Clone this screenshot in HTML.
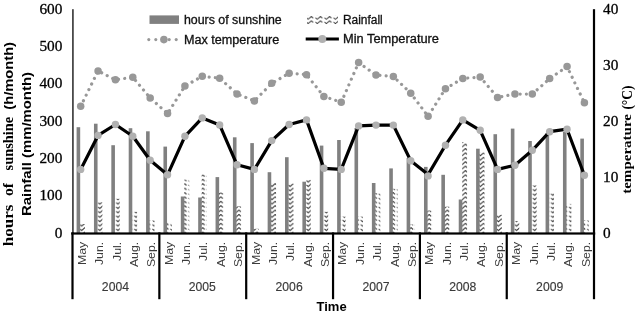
<!DOCTYPE html><html><head><meta charset="utf-8"><style>html,body{margin:0;padding:0;background:#fff;}svg{display:block;will-change:transform}</style></head><body>
<svg width="638" height="314" viewBox="0 0 638 314">
<defs>
<pattern id="wave" patternUnits="userSpaceOnUse" width="9.06" height="4.4" x="3.4" y="2.85"><path d="M-3.3,3.2 L0,0.4 L1.95,2.15 M4.05,1.65 L5.8,3.2 L9.1,0.4 L11.05,2.15" fill="none" stroke="#333333" stroke-width="1.05"/></pattern>
<pattern id="wavel" patternUnits="userSpaceOnUse" width="9.1" height="4.4" x="2.0" y="2.85"><path d="M-3.3,3.2 L0,0.4 L1.95,2.15 M4.05,1.65 L5.8,3.2 L9.1,0.4 L11.05,2.15" fill="none" stroke="#333" stroke-width="0.95"/></pattern>
</defs>
<rect width="638" height="314" fill="#fff"/>
<rect x="76.59" y="127.20" width="3.6" height="106.30" fill="#808080"/>
<rect x="80.09" y="224.00" width="4.9" height="9.50" fill="url(#wave)"/>
<rect x="93.96" y="123.70" width="3.6" height="109.80" fill="#808080"/>
<rect x="97.46" y="202.30" width="4.9" height="31.20" fill="url(#wave)"/>
<rect x="111.33" y="145.20" width="3.6" height="88.30" fill="#808080"/>
<rect x="114.83" y="198.80" width="4.9" height="34.70" fill="url(#wave)"/>
<rect x="128.70" y="128.20" width="3.6" height="105.30" fill="#808080"/>
<rect x="132.20" y="211.80" width="4.9" height="21.70" fill="url(#wave)"/>
<rect x="146.07" y="131.30" width="3.6" height="102.20" fill="#808080"/>
<rect x="149.57" y="220.50" width="4.9" height="13.00" fill="url(#wave)"/>
<rect x="163.44" y="146.60" width="3.6" height="86.90" fill="#808080"/>
<rect x="166.94" y="222.00" width="4.9" height="11.50" fill="url(#wave)"/>
<rect x="180.81" y="196.50" width="3.6" height="37.00" fill="#808080"/>
<rect x="184.31" y="179.60" width="4.9" height="53.90" fill="url(#wave)"/>
<rect x="198.18" y="197.50" width="3.6" height="36.00" fill="#808080"/>
<rect x="201.68" y="174.50" width="4.9" height="59.00" fill="url(#wave)"/>
<rect x="215.55" y="177.10" width="3.6" height="56.40" fill="#808080"/>
<rect x="219.05" y="192.60" width="4.9" height="40.90" fill="url(#wave)"/>
<rect x="232.92" y="137.30" width="3.6" height="96.20" fill="#808080"/>
<rect x="236.42" y="206.40" width="4.9" height="27.10" fill="url(#wave)"/>
<rect x="250.29" y="143.10" width="3.6" height="90.40" fill="#808080"/>
<rect x="253.79" y="228.80" width="4.9" height="4.70" fill="url(#wave)"/>
<rect x="267.65" y="172.20" width="3.6" height="61.30" fill="#808080"/>
<rect x="271.15" y="183.00" width="4.9" height="50.50" fill="url(#wave)"/>
<rect x="285.02" y="157.20" width="3.6" height="76.30" fill="#808080"/>
<rect x="288.52" y="183.50" width="4.9" height="50.00" fill="url(#wave)"/>
<rect x="302.39" y="181.70" width="3.6" height="51.80" fill="#808080"/>
<rect x="305.89" y="179.90" width="4.9" height="53.60" fill="url(#wave)"/>
<rect x="319.76" y="145.60" width="3.6" height="87.90" fill="#808080"/>
<rect x="323.26" y="211.80" width="4.9" height="21.70" fill="url(#wave)"/>
<rect x="337.13" y="140.00" width="3.6" height="93.50" fill="#808080"/>
<rect x="340.63" y="216.60" width="4.9" height="16.90" fill="url(#wave)"/>
<rect x="354.50" y="128.00" width="3.6" height="105.50" fill="#808080"/>
<rect x="358.00" y="216.60" width="4.9" height="16.90" fill="url(#wave)"/>
<rect x="371.88" y="183.00" width="3.6" height="50.50" fill="#808080"/>
<rect x="375.38" y="193.10" width="4.9" height="40.40" fill="url(#wave)"/>
<rect x="389.25" y="168.40" width="3.6" height="65.10" fill="#808080"/>
<rect x="392.75" y="188.80" width="4.9" height="44.70" fill="url(#wave)"/>
<rect x="406.62" y="158.00" width="3.6" height="75.50" fill="#808080"/>
<rect x="410.12" y="224.50" width="4.9" height="9.00" fill="url(#wave)"/>
<rect x="423.99" y="166.90" width="3.6" height="66.60" fill="#808080"/>
<rect x="427.49" y="210.50" width="4.9" height="23.00" fill="url(#wave)"/>
<rect x="441.36" y="174.80" width="3.6" height="58.70" fill="#808080"/>
<rect x="444.86" y="206.70" width="4.9" height="26.80" fill="url(#wave)"/>
<rect x="458.73" y="199.50" width="3.6" height="34.00" fill="#808080"/>
<rect x="462.23" y="142.10" width="4.9" height="91.40" fill="url(#wave)"/>
<rect x="476.10" y="148.70" width="3.6" height="84.80" fill="#808080"/>
<rect x="479.60" y="152.40" width="4.9" height="81.10" fill="url(#wave)"/>
<rect x="493.46" y="134.20" width="3.6" height="99.30" fill="#808080"/>
<rect x="496.96" y="214.80" width="4.9" height="18.70" fill="url(#wave)"/>
<rect x="510.83" y="128.60" width="3.6" height="104.90" fill="#808080"/>
<rect x="514.33" y="221.20" width="4.9" height="12.30" fill="url(#wave)"/>
<rect x="528.21" y="141.00" width="3.6" height="92.50" fill="#808080"/>
<rect x="531.71" y="185.50" width="4.9" height="48.00" fill="url(#wave)"/>
<rect x="545.57" y="133.00" width="3.6" height="100.50" fill="#808080"/>
<rect x="549.07" y="193.10" width="4.9" height="40.40" fill="url(#wave)"/>
<rect x="562.95" y="132.00" width="3.6" height="101.50" fill="#808080"/>
<rect x="566.45" y="203.90" width="4.9" height="29.60" fill="url(#wave)"/>
<rect x="580.32" y="138.60" width="3.6" height="94.90" fill="#808080"/>
<rect x="583.82" y="220.40" width="4.9" height="13.10" fill="url(#wave)"/>
<polyline points="80.69,106.30 98.06,70.90 115.43,79.80 132.80,77.30 150.17,98.00 167.54,113.60 184.91,86.00 202.28,76.30 219.65,78.20 237.02,93.90 254.39,100.90 271.75,83.30 289.12,73.20 306.50,74.70 323.87,96.40 341.24,102.30 358.61,62.60 375.98,75.00 393.35,76.50 410.72,93.20 428.09,116.30 445.46,88.70 462.83,78.40 480.20,77.10 497.56,97.40 514.93,94.10 532.31,94.10 549.67,78.60 567.05,66.60 584.42,102.80" fill="none" stroke="#989898" stroke-width="3.2" stroke-dasharray="0.01 6.2" stroke-linecap="round"/>
<circle cx="80.69" cy="106.30" r="3.75" fill="#989898"/>
<circle cx="98.06" cy="70.90" r="3.75" fill="#989898"/>
<circle cx="115.43" cy="79.80" r="3.75" fill="#989898"/>
<circle cx="132.80" cy="77.30" r="3.75" fill="#989898"/>
<circle cx="150.17" cy="98.00" r="3.75" fill="#989898"/>
<circle cx="167.54" cy="113.60" r="3.75" fill="#989898"/>
<circle cx="184.91" cy="86.00" r="3.75" fill="#989898"/>
<circle cx="202.28" cy="76.30" r="3.75" fill="#989898"/>
<circle cx="219.65" cy="78.20" r="3.75" fill="#989898"/>
<circle cx="237.02" cy="93.90" r="3.75" fill="#989898"/>
<circle cx="254.39" cy="100.90" r="3.75" fill="#989898"/>
<circle cx="271.75" cy="83.30" r="3.75" fill="#989898"/>
<circle cx="289.12" cy="73.20" r="3.75" fill="#989898"/>
<circle cx="306.50" cy="74.70" r="3.75" fill="#989898"/>
<circle cx="323.87" cy="96.40" r="3.75" fill="#989898"/>
<circle cx="341.24" cy="102.30" r="3.75" fill="#989898"/>
<circle cx="358.61" cy="62.60" r="3.75" fill="#989898"/>
<circle cx="375.98" cy="75.00" r="3.75" fill="#989898"/>
<circle cx="393.35" cy="76.50" r="3.75" fill="#989898"/>
<circle cx="410.72" cy="93.20" r="3.75" fill="#989898"/>
<circle cx="428.09" cy="116.30" r="3.75" fill="#989898"/>
<circle cx="445.46" cy="88.70" r="3.75" fill="#989898"/>
<circle cx="462.83" cy="78.40" r="3.75" fill="#989898"/>
<circle cx="480.20" cy="77.10" r="3.75" fill="#989898"/>
<circle cx="497.56" cy="97.40" r="3.75" fill="#989898"/>
<circle cx="514.93" cy="94.10" r="3.75" fill="#989898"/>
<circle cx="532.31" cy="94.10" r="3.75" fill="#989898"/>
<circle cx="549.67" cy="78.60" r="3.75" fill="#989898"/>
<circle cx="567.05" cy="66.60" r="3.75" fill="#989898"/>
<circle cx="584.42" cy="102.80" r="3.75" fill="#989898"/>
<polyline points="80.69,169.40 98.06,135.40 115.43,124.50 132.80,136.30 150.17,160.30 167.54,174.80 184.91,136.30 202.28,117.90 219.65,124.90 237.02,164.80 254.39,169.40 271.75,140.60 289.12,124.50 306.50,119.90 323.87,168.30 341.24,169.40 358.61,125.90 375.98,125.10 393.35,125.10 410.72,160.70 428.09,174.60 445.46,145.20 462.83,119.90 480.20,130.30 497.56,169.40 514.93,165.20 532.31,150.30 549.67,131.70 567.05,129.20 584.42,175.20" fill="none" stroke="#000" stroke-width="3.2" stroke-linejoin="round"/>
<circle cx="80.69" cy="169.40" r="3.7" fill="#b1b1b1"/>
<circle cx="98.06" cy="135.40" r="3.7" fill="#b1b1b1"/>
<circle cx="115.43" cy="124.50" r="3.7" fill="#b1b1b1"/>
<circle cx="132.80" cy="136.30" r="3.7" fill="#b1b1b1"/>
<circle cx="150.17" cy="160.30" r="3.7" fill="#b1b1b1"/>
<circle cx="167.54" cy="174.80" r="3.7" fill="#b1b1b1"/>
<circle cx="184.91" cy="136.30" r="3.7" fill="#b1b1b1"/>
<circle cx="202.28" cy="117.90" r="3.7" fill="#b1b1b1"/>
<circle cx="219.65" cy="124.90" r="3.7" fill="#b1b1b1"/>
<circle cx="237.02" cy="164.80" r="3.7" fill="#b1b1b1"/>
<circle cx="254.39" cy="169.40" r="3.7" fill="#b1b1b1"/>
<circle cx="271.75" cy="140.60" r="3.7" fill="#b1b1b1"/>
<circle cx="289.12" cy="124.50" r="3.7" fill="#b1b1b1"/>
<circle cx="306.50" cy="119.90" r="3.7" fill="#b1b1b1"/>
<circle cx="323.87" cy="168.30" r="3.7" fill="#b1b1b1"/>
<circle cx="341.24" cy="169.40" r="3.7" fill="#b1b1b1"/>
<circle cx="358.61" cy="125.90" r="3.7" fill="#b1b1b1"/>
<circle cx="375.98" cy="125.10" r="3.7" fill="#b1b1b1"/>
<circle cx="393.35" cy="125.10" r="3.7" fill="#b1b1b1"/>
<circle cx="410.72" cy="160.70" r="3.7" fill="#b1b1b1"/>
<circle cx="428.09" cy="175.90" r="3.7" fill="#b1b1b1"/>
<circle cx="445.46" cy="145.20" r="3.7" fill="#b1b1b1"/>
<circle cx="462.83" cy="119.90" r="3.7" fill="#b1b1b1"/>
<circle cx="480.20" cy="130.30" r="3.7" fill="#b1b1b1"/>
<circle cx="497.56" cy="169.40" r="3.7" fill="#b1b1b1"/>
<circle cx="514.93" cy="165.20" r="3.7" fill="#b1b1b1"/>
<circle cx="532.31" cy="150.30" r="3.7" fill="#b1b1b1"/>
<circle cx="549.67" cy="131.70" r="3.7" fill="#b1b1b1"/>
<circle cx="567.05" cy="129.20" r="3.7" fill="#b1b1b1"/>
<circle cx="584.42" cy="175.20" r="3.7" fill="#b1b1b1"/>
<rect x="72" y="9.2" width="1.8" height="224" fill="#4a4a4a"/>
<rect x="71.2" y="232.4" width="524" height="2.2" fill="#000"/>
<rect x="592.9" y="9.2" width="2.2" height="290" fill="#000"/>
<rect x="71.40" y="232.4" width="2.2" height="66.8" fill="#000"/>
<rect x="158.25" y="232.4" width="2.2" height="66.8" fill="#000"/>
<rect x="245.10" y="232.4" width="2.2" height="66.8" fill="#000"/>
<rect x="331.95" y="232.4" width="2.2" height="66.8" fill="#000"/>
<rect x="418.80" y="232.4" width="2.2" height="66.8" fill="#000"/>
<rect x="505.65" y="232.4" width="2.2" height="66.8" fill="#000"/>
<text transform="translate(62.4,237.80) scale(1.02,1)" text-anchor="end" font-family="Liberation Serif" font-size="15" fill="#000" stroke="#000" stroke-width="0.3">0</text>
<text transform="translate(62.4,200.47) scale(1.02,1)" text-anchor="end" font-family="Liberation Serif" font-size="15" fill="#000" stroke="#000" stroke-width="0.3">100</text>
<text transform="translate(62.4,163.14) scale(1.02,1)" text-anchor="end" font-family="Liberation Serif" font-size="15" fill="#000" stroke="#000" stroke-width="0.3">200</text>
<text transform="translate(62.4,125.81) scale(1.02,1)" text-anchor="end" font-family="Liberation Serif" font-size="15" fill="#000" stroke="#000" stroke-width="0.3">300</text>
<text transform="translate(62.4,88.48) scale(1.02,1)" text-anchor="end" font-family="Liberation Serif" font-size="15" fill="#000" stroke="#000" stroke-width="0.3">400</text>
<text transform="translate(62.4,51.15) scale(1.02,1)" text-anchor="end" font-family="Liberation Serif" font-size="15" fill="#000" stroke="#000" stroke-width="0.3">500</text>
<text transform="translate(62.4,13.82) scale(1.02,1)" text-anchor="end" font-family="Liberation Serif" font-size="15" fill="#000" stroke="#000" stroke-width="0.3">600</text>
<text transform="translate(603,237.80) scale(1.02,1)" font-family="Liberation Serif" font-size="15" fill="#000" stroke="#000" stroke-width="0.3">0</text>
<text transform="translate(603,181.80) scale(1.02,1)" font-family="Liberation Serif" font-size="15" fill="#000" stroke="#000" stroke-width="0.3">10</text>
<text transform="translate(603,125.80) scale(1.02,1)" font-family="Liberation Serif" font-size="15" fill="#000" stroke="#000" stroke-width="0.3">20</text>
<text transform="translate(603,69.80) scale(1.02,1)" font-family="Liberation Serif" font-size="15" fill="#000" stroke="#000" stroke-width="0.3">30</text>
<text transform="translate(603,13.80) scale(1.02,1)" font-family="Liberation Serif" font-size="15" fill="#000" stroke="#000" stroke-width="0.3">40</text>
<text transform="translate(85.89,241.8) rotate(-90) scale(1.12,1)" text-anchor="end" font-family="Liberation Sans" font-size="11" fill="#3c3c3c">May</text>
<text transform="translate(103.26,241.8) rotate(-90) scale(1.12,1)" text-anchor="end" font-family="Liberation Sans" font-size="11" fill="#3c3c3c">Jun.</text>
<text transform="translate(120.63,241.8) rotate(-90) scale(1.12,1)" text-anchor="end" font-family="Liberation Sans" font-size="11" fill="#3c3c3c">Jul.</text>
<text transform="translate(138.00,241.8) rotate(-90) scale(1.12,1)" text-anchor="end" font-family="Liberation Sans" font-size="11" fill="#3c3c3c">Aug.</text>
<text transform="translate(155.37,241.8) rotate(-90) scale(1.12,1)" text-anchor="end" font-family="Liberation Sans" font-size="11" fill="#3c3c3c">Sep.</text>
<text transform="translate(172.74,241.8) rotate(-90) scale(1.12,1)" text-anchor="end" font-family="Liberation Sans" font-size="11" fill="#3c3c3c">May</text>
<text transform="translate(190.10,241.8) rotate(-90) scale(1.12,1)" text-anchor="end" font-family="Liberation Sans" font-size="11" fill="#3c3c3c">Jun.</text>
<text transform="translate(207.47,241.8) rotate(-90) scale(1.12,1)" text-anchor="end" font-family="Liberation Sans" font-size="11" fill="#3c3c3c">Jul.</text>
<text transform="translate(224.84,241.8) rotate(-90) scale(1.12,1)" text-anchor="end" font-family="Liberation Sans" font-size="11" fill="#3c3c3c">Aug.</text>
<text transform="translate(242.22,241.8) rotate(-90) scale(1.12,1)" text-anchor="end" font-family="Liberation Sans" font-size="11" fill="#3c3c3c">Sep.</text>
<text transform="translate(259.59,241.8) rotate(-90) scale(1.12,1)" text-anchor="end" font-family="Liberation Sans" font-size="11" fill="#3c3c3c">May</text>
<text transform="translate(276.95,241.8) rotate(-90) scale(1.12,1)" text-anchor="end" font-family="Liberation Sans" font-size="11" fill="#3c3c3c">Jun.</text>
<text transform="translate(294.32,241.8) rotate(-90) scale(1.12,1)" text-anchor="end" font-family="Liberation Sans" font-size="11" fill="#3c3c3c">Jul.</text>
<text transform="translate(311.69,241.8) rotate(-90) scale(1.12,1)" text-anchor="end" font-family="Liberation Sans" font-size="11" fill="#3c3c3c">Aug.</text>
<text transform="translate(329.06,241.8) rotate(-90) scale(1.12,1)" text-anchor="end" font-family="Liberation Sans" font-size="11" fill="#3c3c3c">Sep.</text>
<text transform="translate(346.44,241.8) rotate(-90) scale(1.12,1)" text-anchor="end" font-family="Liberation Sans" font-size="11" fill="#3c3c3c">May</text>
<text transform="translate(363.81,241.8) rotate(-90) scale(1.12,1)" text-anchor="end" font-family="Liberation Sans" font-size="11" fill="#3c3c3c">Jun.</text>
<text transform="translate(381.18,241.8) rotate(-90) scale(1.12,1)" text-anchor="end" font-family="Liberation Sans" font-size="11" fill="#3c3c3c">Jul.</text>
<text transform="translate(398.55,241.8) rotate(-90) scale(1.12,1)" text-anchor="end" font-family="Liberation Sans" font-size="11" fill="#3c3c3c">Aug.</text>
<text transform="translate(415.92,241.8) rotate(-90) scale(1.12,1)" text-anchor="end" font-family="Liberation Sans" font-size="11" fill="#3c3c3c">Sep.</text>
<text transform="translate(433.29,241.8) rotate(-90) scale(1.12,1)" text-anchor="end" font-family="Liberation Sans" font-size="11" fill="#3c3c3c">May</text>
<text transform="translate(450.66,241.8) rotate(-90) scale(1.12,1)" text-anchor="end" font-family="Liberation Sans" font-size="11" fill="#3c3c3c">Jun.</text>
<text transform="translate(468.03,241.8) rotate(-90) scale(1.12,1)" text-anchor="end" font-family="Liberation Sans" font-size="11" fill="#3c3c3c">Jul.</text>
<text transform="translate(485.40,241.8) rotate(-90) scale(1.12,1)" text-anchor="end" font-family="Liberation Sans" font-size="11" fill="#3c3c3c">Aug.</text>
<text transform="translate(502.76,241.8) rotate(-90) scale(1.12,1)" text-anchor="end" font-family="Liberation Sans" font-size="11" fill="#3c3c3c">Sep.</text>
<text transform="translate(520.13,241.8) rotate(-90) scale(1.12,1)" text-anchor="end" font-family="Liberation Sans" font-size="11" fill="#3c3c3c">May</text>
<text transform="translate(537.51,241.8) rotate(-90) scale(1.12,1)" text-anchor="end" font-family="Liberation Sans" font-size="11" fill="#3c3c3c">Jun.</text>
<text transform="translate(554.88,241.8) rotate(-90) scale(1.12,1)" text-anchor="end" font-family="Liberation Sans" font-size="11" fill="#3c3c3c">Jul.</text>
<text transform="translate(572.25,241.8) rotate(-90) scale(1.12,1)" text-anchor="end" font-family="Liberation Sans" font-size="11" fill="#3c3c3c">Aug.</text>
<text transform="translate(589.62,241.8) rotate(-90) scale(1.12,1)" text-anchor="end" font-family="Liberation Sans" font-size="11" fill="#3c3c3c">Sep.</text>
<text x="115.43" y="291.2" text-anchor="middle" font-family="Liberation Sans" font-size="12.2" fill="#3a3a3a" stroke="#3a3a3a" stroke-width="0.15">2004</text>
<text x="202.28" y="291.2" text-anchor="middle" font-family="Liberation Sans" font-size="12.2" fill="#3a3a3a" stroke="#3a3a3a" stroke-width="0.15">2005</text>
<text x="289.12" y="291.2" text-anchor="middle" font-family="Liberation Sans" font-size="12.2" fill="#3a3a3a" stroke="#3a3a3a" stroke-width="0.15">2006</text>
<text x="375.98" y="291.2" text-anchor="middle" font-family="Liberation Sans" font-size="12.2" fill="#3a3a3a" stroke="#3a3a3a" stroke-width="0.15">2007</text>
<text x="462.83" y="291.2" text-anchor="middle" font-family="Liberation Sans" font-size="12.2" fill="#3a3a3a" stroke="#3a3a3a" stroke-width="0.15">2008</text>
<text x="549.68" y="291.2" text-anchor="middle" font-family="Liberation Sans" font-size="12.2" fill="#3a3a3a" stroke="#3a3a3a" stroke-width="0.15">2009</text>
<text x="331.6" y="311.4" text-anchor="middle" font-family="Liberation Sans" font-weight="bold" font-size="13" fill="#000">Time</text>
<rect x="149.5" y="15.4" width="29.5" height="8.5" fill="#808080"/>
<text x="183.9" y="23.9" font-family="Liberation Sans" font-size="12" textLength="97.8" lengthAdjust="spacingAndGlyphs" fill="#111" stroke="#111" stroke-width="0.3">hours of sunshine</text>
<circle cx="148.8" cy="39.6" r="1.55" fill="#989898"/>
<circle cx="155.8" cy="39.6" r="1.55" fill="#989898"/>
<circle cx="169.2" cy="39.6" r="1.55" fill="#989898"/>
<circle cx="176.2" cy="39.6" r="1.55" fill="#989898"/>
<circle cx="163.9" cy="39.6" r="3.8" fill="#989898"/>
<text x="183.9" y="43.7" font-family="Liberation Sans" font-size="12" textLength="95.3" lengthAdjust="spacingAndGlyphs" fill="#111" stroke="#111" stroke-width="0.3">Max temperature</text>
<rect x="307" y="15.7" width="31" height="8.6" fill="url(#wavel)"/>
<text x="343" y="23.9" font-family="Liberation Sans" font-size="12" textLength="39.7" lengthAdjust="spacingAndGlyphs" fill="#111" stroke="#111" stroke-width="0.3">Rainfall</text>
<line x1="305.7" y1="39" x2="338.9" y2="39" stroke="#000" stroke-width="3.2"/>
<circle cx="322.3" cy="39" r="4" fill="#b1b1b1"/>
<text x="343" y="43.4" font-family="Liberation Sans" font-size="12" textLength="96" lengthAdjust="spacingAndGlyphs" fill="#111" stroke="#111" stroke-width="0.3">Min Temperature</text>
<text transform="translate(13.1,246.2) rotate(-90)" font-family="Liberation Serif" font-weight="bold" font-size="14" textLength="41.5" lengthAdjust="spacingAndGlyphs" fill="#000">hours</text>
<text transform="translate(13.1,196.0) rotate(-90)" font-family="Liberation Serif" font-weight="bold" font-size="14" textLength="13.0" lengthAdjust="spacingAndGlyphs" fill="#000">of</text>
<text transform="translate(13.1,170.4) rotate(-90)" font-family="Liberation Serif" font-weight="bold" font-size="14" textLength="53.6" lengthAdjust="spacingAndGlyphs" fill="#000">sunshine</text>
<text transform="translate(13.1,109.7) rotate(-90)" font-family="Liberation Sans" font-weight="bold" font-size="13.5" textLength="67.7" lengthAdjust="spacingAndGlyphs" fill="#000">(h/month)</text>
<text transform="translate(31,216) rotate(-90)" font-family="Liberation Sans" font-weight="bold" font-size="13" textLength="144" lengthAdjust="spacingAndGlyphs" fill="#000">Rainfall (mm/month)</text>
<text transform="translate(631,193.8) rotate(-90)" font-family="Liberation Serif" font-weight="bold" font-size="13" textLength="79.8" lengthAdjust="spacingAndGlyphs" fill="#000">temperature</text>
<text transform="translate(632.3,109.6) rotate(-90)" font-family="Liberation Serif" font-weight="bold" font-size="15" textLength="24" lengthAdjust="spacingAndGlyphs" fill="#000">(°C)</text>
</svg></body></html>
